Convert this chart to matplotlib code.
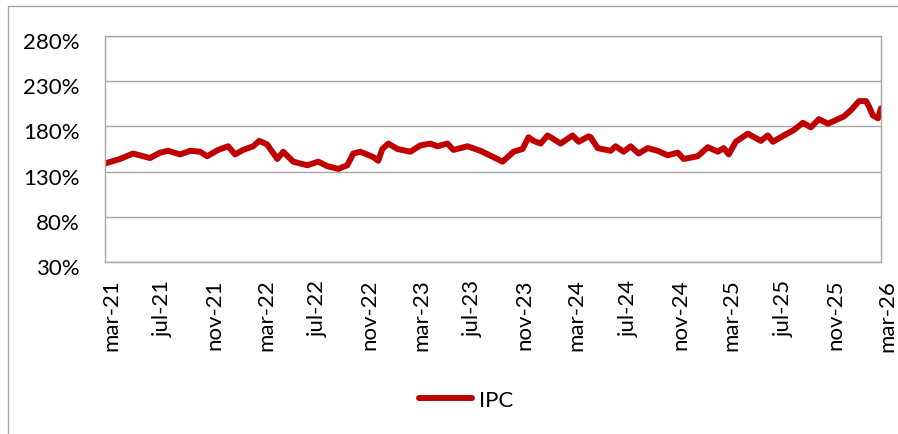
import matplotlib
matplotlib.use("Agg")
import matplotlib.pyplot as plt
from matplotlib.patches import Rectangle
from matplotlib.transforms import ScaledTranslation

# meses transcurridos desde mar-21 y nivel del IPC (%)
meses = [0.0, 1.16, 2.17, 3.48, 4.26, 4.88, 5.81, 6.58, 7.35, 7.90,
         8.75, 9.52, 10.06, 10.68, 11.46, 11.92, 12.54, 13.32, 13.78, 14.55,
         15.64, 16.49, 17.19, 18.04, 18.73, 19.20, 19.74, 20.75, 21.13, 21.44,
         21.91, 22.61, 23.61, 24.39, 25.16, 25.70, 26.48, 26.94, 28.03, 29.03,
         30.04, 30.74, 31.59, 32.28, 32.75, 33.13, 33.68, 34.22, 35.23, 36.15,
         36.62, 37.39, 37.55, 38.09, 39.10, 39.48, 40.10, 40.64, 41.26, 41.96,
         42.73, 43.51, 44.28, 44.75, 45.83, 46.61, 47.38, 47.84, 48.23, 48.77,
         49.70, 50.71, 51.25, 51.64, 52.49, 53.26, 53.96, 54.58, 55.20, 55.90,
         56.67, 57.13, 57.68, 58.30, 58.84, 59.07, 59.38, 59.77, 60.0]
ipc = [139, 144, 150, 145, 151, 153, 149, 153, 152, 147,
       154, 158, 149, 154, 158, 164, 160, 144, 152, 141,
       137, 141, 136, 133, 137, 150, 152, 146, 142, 155,
       161, 155, 152, 159, 161, 158, 161, 154, 158, 153,
       146, 141, 152, 155, 168, 164, 161, 170, 161, 170,
       163, 169, 168, 156, 153, 158, 152, 158, 150, 156,
       153, 148, 151, 144, 147, 157, 152, 156, 149, 163,
       172, 164, 170, 163, 170, 176, 184, 179, 188, 183,
       188, 191, 198, 208, 208, 202, 192, 189, 200]

etiquetas = ['mar-21', 'jul-21', 'nov-21', 'mar-22', 'jul-22', 'nov-22',
             'mar-23', 'jul-23', 'nov-23', 'mar-24', 'jul-24', 'nov-24',
             'mar-25', 'jul-25', 'nov-25', 'mar-26']
niveles_y = [30, 80, 130, 180, 230, 280]

plt.rcParams['font.family'] = ['Lato', 'DejaVu Sans']

fig = plt.figure(figsize=(8.98, 4.35), dpi=100)
ax = fig.add_axes([105 / 898, 1 - 263 / 435, 776 / 898, 226 / 435])

# marco gris de la figura (solo se ven borde superior e izquierdo)
fig.patches.append(Rectangle((8 / 898, -0.1), 1.2, 1 - 7 / 435 + 0.1,
                             transform=fig.transFigure, fill=False,
                             edgecolor='#a6a6a6', linewidth=1.0))

ax.plot(meses, ipc, color='#c00000', linewidth=4.3, solid_capstyle='round',
        solid_joinstyle='round', label='IPC')

ax.set_xlim(0, 60)
ax.set_ylim(30, 280)
ax.set_yticks(niveles_y)
ax.set_yticklabels([f'{v}%' for v in niveles_y])
ax.set_xticks(range(0, 61, 4))
ax.set_xticklabels(etiquetas, rotation=90)
ax.grid(axis='y', color='#a6a6a6', linewidth=1.0)
ax.set_axisbelow(True)
for s in ax.spines.values():
    s.set_color('#a6a6a6')
    s.set_linewidth(1.0)
ax.tick_params(length=0, labelsize=16, colors='black')
ax.tick_params(axis='y', pad=18)
ax.tick_params(axis='x', pad=12)

desplazar = ScaledTranslation(0, -4 / 100, fig.dpi_scale_trans)
for lab in ax.get_yticklabels():
    lab.set_transform(lab.get_transform() + desplazar)
desplazar_x = ScaledTranslation(6 / 100, 0, fig.dpi_scale_trans)
for lab in ax.get_xticklabels():
    lab.set_transform(lab.get_transform() + desplazar_x)

fig.legend(loc='center', bbox_to_anchor=(466 / 898, 1 - 401 / 435),
           frameon=False, fontsize=16, handlelength=2.4, handletextpad=0.3)

plt.savefig('out.png', dpi=100)
plt.close()
